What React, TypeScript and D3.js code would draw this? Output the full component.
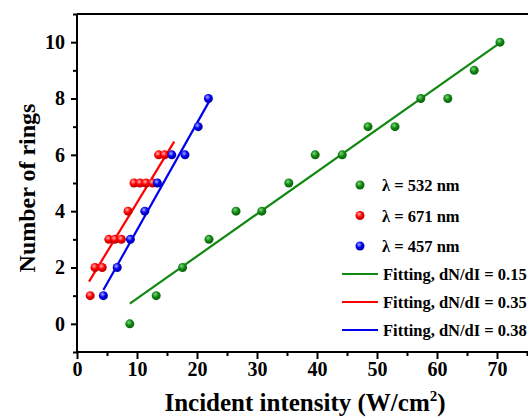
import React, { useEffect, useRef } from 'react';
import * as d3 from 'd3';

// measured points (intensity in W/cm^2, number of rings)
const green532X = [8.8, 13.2, 17.6, 22, 26.5, 30.8, 35.3, 39.7, 44.2, 48.5, 53, 57.3, 61.8, 66.2, 70.5];
const green532Y = [0, 1, 2, 3, 4, 4, 5, 6, 6, 7, 7, 8, 8, 9, 10];
const red671X = [2.2, 3.0, 4.2, 5.3, 6.3, 7.4, 8.5, 9.5, 10.5, 11.5, 12.6, 13.6, 14.6];
const red671Y = [1, 2, 2, 3, 3, 3, 4, 5, 5, 5, 5, 6, 6];
const blue457X = [4.4, 6.7, 8.9, 11.3, 13.4, 15.8, 18.0, 20.2, 21.9];
const blue457Y = [1, 2, 3, 4, 5, 6, 6, 7, 8];

// linear fits: [slope, intercept, xStart, xEnd]
const greenFit = [0.15, -0.6, 8.8, 70.2];
const redFit = [0.35, 0.8, 2.0, 16.2];
const blueFit = [0.38, -0.47, 4.4, 22.0];

const xTicks = [0, 10, 20, 30, 40, 50, 60, 70];
const yTicks = [0, 2, 4, 6, 8, 10];

const series = [
    { key: 'g', label: 'λ = 532 nm', xs: green532X, ys: green532Y, fit: greenFit, fitLabel: 'Fitting, dN/dI = 0.15', color: '#118811', light: '#7fd87f' },
    { key: 'r', label: 'λ = 671 nm', xs: red671X, ys: red671Y, fit: redFit, fitLabel: 'Fitting, dN/dI = 0.35', color: '#ff0000', light: '#ffb0b0' },
    { key: 'b', label: 'λ = 457 nm', xs: blue457X, ys: blue457Y, fit: blueFit, fitLabel: 'Fitting, dN/dI = 0.38', color: '#0000ee', light: '#a8a8ff' },
];

const FONT = '"Liberation Serif", "Times New Roman", serif';

const App = () => {
    const ref = useRef<SVGSVGElement>(null);
    const width = 528;
    const height = 419;

    useEffect(() => {
        const svg = d3.select(ref.current);
        svg.selectAll('*').remove();

        const margin = { top: 14, left: 77, bottom: 352 };

        const x = d3.scaleLinear().domain([0, 70]).range([margin.left, 497]);
        const y = d3.scaleLinear().domain([-1, 11]).range([margin.bottom, margin.top]);

        // shaded ball gradients
        const defs = svg.append('defs');
        series.forEach(s => {
            const g = defs.append('radialGradient')
                .attr('id', 'ball-' + s.key)
                .attr('cx', '40%').attr('cy', '35%').attr('r', '60%');
            g.append('stop').attr('offset', '0%').attr('stop-color', s.light);
            g.append('stop').attr('offset', '55%').attr('stop-color', s.color);
            g.append('stop').attr('offset', '100%').attr('stop-color', d3.color(s.color)!.darker(0.8).toString());
        });

        // frame lines (left, bottom, top)
        const frame = svg.append('g').attr('stroke', '#000').attr('stroke-width', 2);
        frame.append('line').attr('x1', margin.left).attr('x2', margin.left).attr('y1', margin.top).attr('y2', margin.bottom);
        frame.append('line').attr('x1', margin.left).attr('x2', width).attr('y1', margin.bottom).attr('y2', margin.bottom);
        frame.append('line').attr('x1', margin.left).attr('x2', width).attr('y1', margin.top).attr('y2', margin.top);

        const styleTicks = (g: any) => {
            g.select('.domain').remove();
            g.attr('font-family', FONT).attr('font-size', 20).attr('font-weight', 'bold');
            g.selectAll('line').attr('stroke-width', 2);
            g.selectAll('text')
                .style('font-family', FONT)
                .style('font-weight', 'bold')
                .style('font-size', '20px')
                .attr('fill', '#000');
        };

        // x axis
        svg.append('g').attr('transform', `translate(0,${margin.bottom})`)
            .call(d3.axisBottom(x).tickValues(xTicks).tickSize(7).tickPadding(3).tickFormat(d3.format('d')))
            .call(styleTicks);
        svg.append('g').attr('transform', `translate(0,${margin.bottom})`)
            .call(d3.axisBottom(x).tickValues(d3.range(5, 80, 10)).tickSize(4).tickFormat(() => ''))
            .call(styleTicks);

        // y axis
        svg.append('g').attr('transform', `translate(${margin.left},0)`)
            .call(d3.axisLeft(y).tickValues(yTicks).tickSize(6).tickPadding(6))
            .call(styleTicks);
        svg.append('g').attr('transform', `translate(${margin.left},0)`)
            .call(d3.axisLeft(y).tickValues(d3.range(-1, 12, 2)).tickSize(4).tickFormat(() => ''))
            .call(styleTicks);

        // axis titles
        const xTitle = svg.append('text')
            .attr('x', 305).attr('y', 411)
            .attr('text-anchor', 'middle')
            .style('font-family', FONT).style('font-weight', 'bold').style('font-size', '25px');
        xTitle.append('tspan').text('Incident intensity (W/cm');
        xTitle.append('tspan').style('font-size', '15px').attr('dy', -10).text('2');
        xTitle.append('tspan').attr('dy', 10).text(')');

        svg.append('text')
            .attr('transform', `translate(35,188) rotate(-90)`)
            .attr('text-anchor', 'middle')
            .style('font-family', FONT).style('font-weight', 'bold').style('font-size', '24px')
            .text('Number of rings');

        // fit lines
        series.forEach(s => {
            const [m, c, x0, x1] = s.fit;
            svg.append('line')
                .attr('x1', x(x0)).attr('y1', y(m * x0 + c))
                .attr('x2', x(x1)).attr('y2', y(m * x1 + c))
                .attr('stroke', s.color).attr('stroke-width', 2.2);
        });

        // points
        series.forEach(s => {
            svg.append('g').selectAll('circle')
                .data(s.xs.map((v, i) => [v, s.ys[i]]))
                .join('circle')
                .attr('cx', d => x(d[0]))
                .attr('cy', d => y(d[1]))
                .attr('r', 4.5)
                .attr('fill', `url(#ball-${s.key})`);
        });

        // legend
        const legend = svg.append('g')
            .style('font-family', FONT).style('font-weight', 'bold').style('font-size', '16.5px');
        series.forEach((s, i) => {
            const ry = 185 + i * 30.5;
            legend.append('circle').attr('cx', 360).attr('cy', ry).attr('r', 4.5).attr('fill', `url(#ball-${s.key})`);
            legend.append('text').attr('x', 382).attr('y', ry + 6).text(s.label);
        });
        series.forEach((s, i) => {
            const ry = 274 + i * 28;
            legend.append('line').attr('x1', 342).attr('x2', 378).attr('y1', ry).attr('y2', ry)
                .attr('stroke', s.color).attr('stroke-width', 2.2);
            legend.append('text').attr('x', 383).attr('y', ry + 6).text(s.fitLabel);
        });
    }, []);

    return (
        <svg ref={ref} width={width} height={height} style={{ position: 'absolute', left: 0, top: 0 }}></svg>
    );
};

export default App;
